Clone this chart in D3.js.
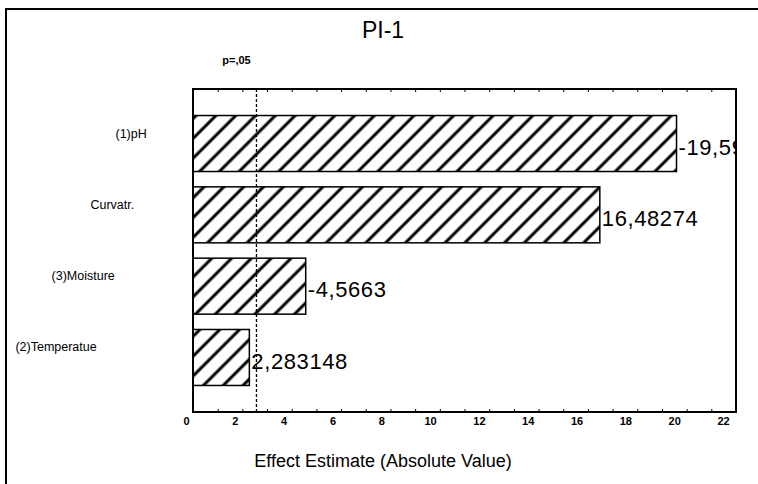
<!DOCTYPE html>
<html>
<head>
<meta charset="utf-8">
<script src="https://cdn.jsdelivr.net/npm/d3@7"></script>
<style>
  body { margin: 0; background: #fff; }
  svg { display: block; font-family: Arial, "Liberation Sans", sans-serif; }
</style>
</head>
<body>
<div id="chart"></div>
<script>
// chart data (Pareto chart of standardized effects)
const categories = ["(1)pH", "Curvatr.", "(3)Moisture", "(2)Temperatue"];
const effects = [-19.59, 16.48274, -4.5663, 2.283148];
const xTickValues = [0, 2, 4, 6, 8, 10, 12, 14, 16, 18, 20, 22];
const criticalValue = 2.571;   // t value for p=,05
const pLabel = "p=,05";
const title = "PI-1";
const xTitle = "Effect Estimate (Absolute Value)";

const W = 758, H = 484;
const margin = {top: 89, right: 22, bottom: 72, left: 193};
const width = W - margin.left - margin.right,
      height = H - margin.top - margin.bottom;

const svg = d3.select("#chart")
  .append("svg")
    .attr("width", W)
    .attr("height", H);

// outer border (top + left only, like the scan)
svg.append("path")
  .attr("d", `M6,${H} V9 H${W}`)
  .attr("fill", "none")
  .attr("stroke", "#000")
  .attr("stroke-width", 2);

// hatch pattern
const defs = svg.append("defs");
defs.append("pattern")
    .attr("id", "hatch")
    .attr("patternUnits", "userSpaceOnUse")
    .attr("width", 14)
    .attr("height", 14)
    .attr("patternTransform", "rotate(45)")
  .append("line")
    .attr("x1", 7).attr("y1", 0)
    .attr("x2", 7).attr("y2", 14)
    .attr("stroke", "#000")
    .attr("stroke-width", 3);

defs.append("clipPath")
    .attr("id", "plotClip")
  .append("rect")
    .attr("x", 0).attr("y", 0)
    .attr("width", width).attr("height", height);

const g = svg.append("g")
  .attr("transform", `translate(${margin.left},${margin.top})`);

// scales
const x = d3.scaleLinear().domain([0, 22]).range([0, width]);
const y = d3.scaleBand()
  .domain(categories)
  .range([0, height])
  .paddingInner(0.215)
  .paddingOuter(0.372);

// title + p label
svg.append("text")
  .attr("x", 383)
  .attr("y", 38)
  .attr("text-anchor", "middle")
  .style("font-size", "23px")
  .text(title);

svg.append("text")
  .attr("x", margin.left + x(criticalValue) - 20)
  .attr("y", 64)
  .attr("text-anchor", "middle")
  .style("font-size", "11px")
  .style("font-weight", "bold")
  .text(pLabel);

// bars
g.selectAll("rect.bar")
  .data(effects)
  .enter().append("rect")
    .attr("class", "bar")
    .attr("x", x(0))
    .attr("y", (d, i) => y(categories[i]))
    .attr("width", d => x(Math.abs(d)) - x(0))
    .attr("height", y.bandwidth())
    .attr("fill", "url(#hatch)")
    .attr("stroke", "#000")
    .attr("stroke-width", 1.5);

// value labels, clipped by the plot frame
g.append("g")
  .attr("clip-path", "url(#plotClip)")
  .selectAll("text")
  .data(effects)
  .enter().append("text")
    .attr("x", d => x(Math.abs(d)) + 2)
    .attr("y", (d, i) => y(categories[i]) + y.bandwidth() / 2 + 3.5)
    .attr("dy", "0.35em")
    .style("font-size", "22px")
    .style("letter-spacing", "0.6px")
    .text(d => String(d).replace(".", ","));

// critical value line
g.append("line")
  .attr("x1", x(criticalValue)).attr("x2", x(criticalValue))
  .attr("y1", 0).attr("y2", height)
  .attr("stroke", "#000")
  .attr("stroke-width", 1.3)
  .attr("stroke-dasharray", "3,2");

// minor ticks top and bottom (inward)
g.append("g")
  .attr("transform", `translate(0,${height})`)
  .call(d3.axisBottom(x).ticks(22).tickSize(-3).tickFormat(""))
  .call(a => a.select(".domain").remove());
g.append("g")
  .call(d3.axisTop(x).ticks(22).tickSize(-3).tickFormat(""))
  .call(a => a.select(".domain").remove());

// tick labels (scan puts them a little left of the ticks)
const xLab = x.copy().range([x(0) - 7, x(22) - 13]);
g.append("g")
  .attr("transform", `translate(0,${height})`)
  .call(d3.axisBottom(xLab).tickValues(xTickValues).tickSize(0).tickPadding(5))
  .call(a => a.select(".domain").remove())
  .selectAll("text")
    .style("font-size", "11px")
    .style("font-weight", "bold")
    .style("font-family", "Arial, 'Liberation Sans', sans-serif");

// plot frame
g.append("rect")
  .attr("width", width)
  .attr("height", height)
  .attr("fill", "none")
  .attr("stroke", "#000")
  .attr("stroke-width", 2);

// category labels (staggered like in the original export)
const labels = svg.append("g")
  .selectAll("text")
  .data(categories)
  .enter().append("text")
    .attr("y", d => margin.top + y(d) + y.bandwidth() / 2 - 6)
    .style("font-size", "12.5px")
    .text(d => d);
labels.attr("x", function() { return 178 - 2 * this.getComputedTextLength(); });

// axis title
svg.append("text")
  .attr("x", 383)
  .attr("y", 467)
  .attr("text-anchor", "middle")
  .style("font-size", "18px")
  .text(xTitle);
</script>
</body>
</html>
